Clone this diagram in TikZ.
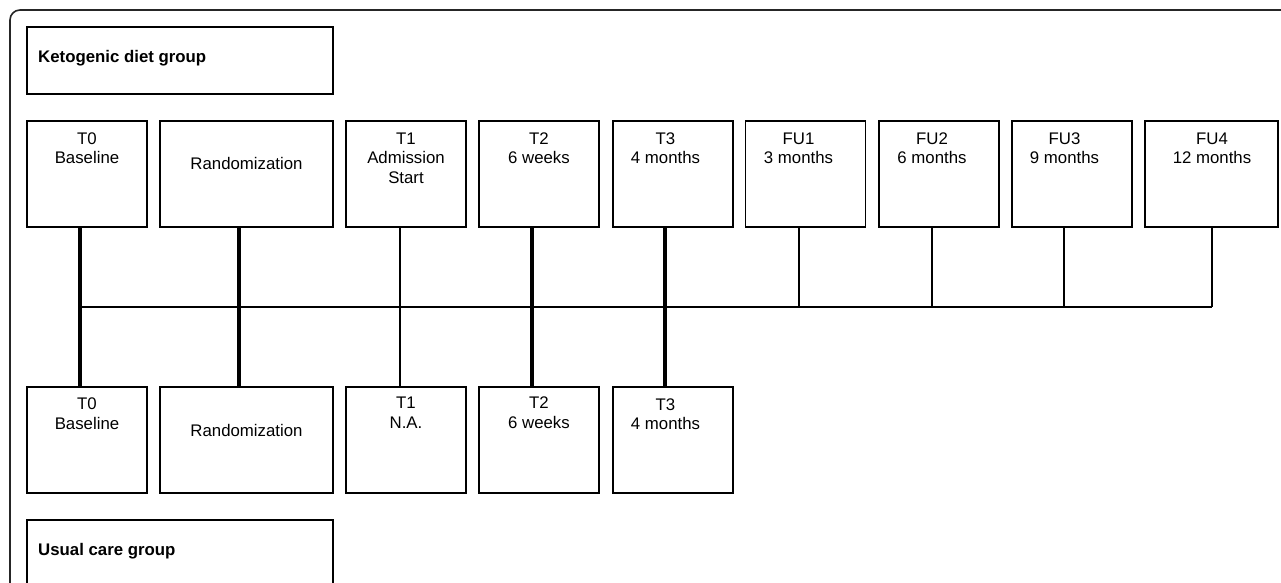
\documentclass[tikz,border=0pt]{standalone}
\usepackage{fontspec}
\setmainfont{Liberation Sans}
\begin{document}
\begin{tikzpicture}[x=1pt,y=-1pt,
  box/.style={draw=black, line width=1.8pt, inner sep=0pt, minimum width=120pt, minimum height=106pt},
  widebox/.style={box, minimum width=173pt},
  fubox/.style={box, minimum width=133pt},
  groupbox/.style={draw=black, line width=1.8pt, inner sep=0pt, minimum width=306pt, minimum height=67pt},
  txt/.style={align=center, anchor=base, inner sep=0pt, font=\fontsize{16.8}{19.5}\selectfont},
  gtxt/.style={anchor=base west, inner sep=0pt, font=\fontsize{16.8}{20}\selectfont\bfseries},
  thickline/.style={line width=3.2pt},
  thinline/.style={line width=2pt},
  hline/.style={line width=2.4pt},
  frame/.style={draw=black!85, line width=1.6pt, rounded corners=10pt}
]
\useasboundingbox (0,0) rectangle (1281,583);
\clip (0,0) rectangle (1281,583);

% outer frame
\draw[frame] (1300,10) -- (10,10) -- (10,610);

% group boxes
\node[groupbox] (kgrp) at (180,60.5) {};
\node[gtxt] at (38,63) {Ketogenic diet group};
\node[groupbox] (ugrp) at (180,553.5) {};
\node[gtxt] at (38,555) {Usual care group};

% top row
\node[box] (kt0) at (87,174) {};
\node[widebox] (kr) at (246.5,174) {};
\node[box] (kt1) at (406,174) {};
\node[box] (kt2) at (539,174) {};
\node[box] (kt3) at (673,174) {};
\node[box] (kf1) at (805.5,174) {};
\node[box] (kf2) at (939,174) {};
\node[box] (kf3) at (1072,174) {};
\node[fubox] (kf4) at (1211.5,174) {};

% anchor=base is the baseline of the last line
\node[txt] at (87,163.5) {T0\\Baseline};
\node[txt] at (246.5,169) {Randomization};
\node[txt] at (406,183) {T1\\Admission\\Start};
\node[txt] at (539,163.5) {T2\\6 weeks};
\node[txt] at (665.5,163.5) {T3\\4 months};
\node[txt] at (798.5,163.5) {FU1\\3 months};
\node[txt] at (932,163.5) {FU2\\6 months};
\node[txt] at (1064.5,163.5) {FU3\\9 months};
\node[txt] at (1212,163.5) {FU4\\12 months};

% bottom row
\node[box] (ut0) at (87,440) {};
\node[widebox] (ur) at (246.5,440) {};
\node[box] (ut1) at (406,440) {};
\node[box] (ut2) at (539,440) {};
\node[box] (ut3) at (673,440) {};

\node[txt] at (87,429) {T0\\Baseline};
\node[txt] at (246.5,436) {Randomization};
\node[txt] at (406,428) {T1\\N.A.};
\node[txt] at (539,428) {T2\\6 weeks};
\node[txt] at (665.5,429.5) {T3\\4 months};

% horizontal line
\coordinate (hl) at (80,307);
\coordinate (hr) at (1212,307);
\draw[hline] (hl) -- (hr);

% vertical connectors
\draw[thickline] ([xshift=-7pt]kt0.south) -- ([xshift=-7pt]ut0.north);
\draw[thickline] ([xshift=-7.5pt]kr.south) -- ([xshift=-7.5pt]ur.north);
\draw[thinline] ([xshift=-6pt]kt1.south) -- ([xshift=-6pt]ut1.north);
\draw[thickline] ([xshift=-7pt]kt2.south) -- ([xshift=-7pt]ut2.north);
\draw[thickline] ([xshift=-8pt]kt3.south) -- ([xshift=-8pt]ut3.north);
\draw[thinline] ([xshift=-6.5pt]kf1.south) -- ([xshift=-6.5pt]kf1.south |- hl);
\draw[thinline] ([xshift=-7pt]kf2.south) -- ([xshift=-7pt]kf2.south |- hl);
\draw[thinline] ([xshift=-8pt]kf3.south) -- ([xshift=-8pt]kf3.south |- hl);
\draw[thinline] ([xshift=0.5pt]kf4.south) -- (hr);
\end{tikzpicture}
\end{document}
